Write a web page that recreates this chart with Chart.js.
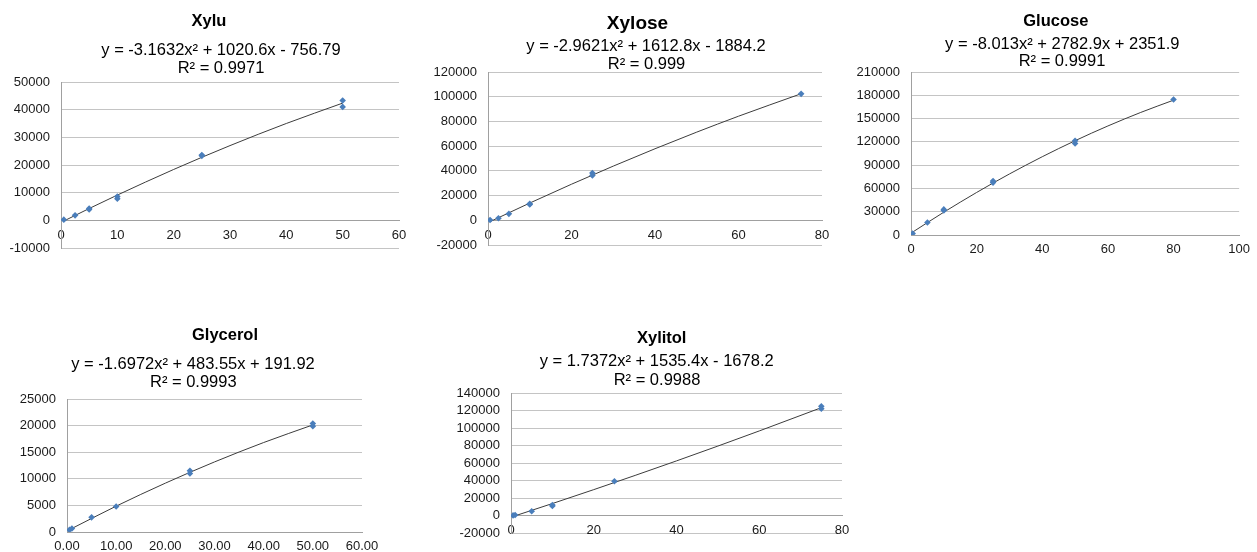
<!DOCTYPE html>
<html><head><meta charset="utf-8">
<script src="https://cdn.jsdelivr.net/npm/chart.js@4.4.0/dist/chart.umd.min.js"></script>
<style>
html,body{margin:0;padding:0;background:#fff;width:1257px;height:552px;overflow:hidden;position:relative;}
canvas{position:absolute;}
</style></head><body>
<canvas id="c1" width="420" height="270" style="left:0px;top:0px"></canvas>
<canvas id="c2" width="420" height="270" style="left:420px;top:0px"></canvas>
<canvas id="c3" width="417" height="270" style="left:840px;top:0px"></canvas>
<canvas id="c4" width="420" height="272" style="left:0px;top:280px"></canvas>
<canvas id="c5" width="440" height="272" style="left:420px;top:280px"></canvas>
<script>
// ---------- data ----------
const titles = ['Xylu', 'Xylose', 'Glucose', 'Glycerol', 'Xylitol'];
const equations = [
  'y = -3.1632x\u00B2 + 1020.6x - 756.79',
  'y = -2.9621x\u00B2 + 1612.8x - 1884.2',
  'y = -8.013x\u00B2 + 2782.9x + 2351.9',
  'y = -1.6972x\u00B2 + 483.55x + 191.92',
  'y = 1.7372x\u00B2 + 1535.4x - 1678.2'
];
const r2Texts = ['R\u00B2 = 0.9971', 'R\u00B2 = 0.999', 'R\u00B2 = 0.9991', 'R\u00B2 = 0.9993', 'R\u00B2 = 0.9988'];

// Xylu
const xyluX = [0.5, 2.5, 5, 5, 10, 10, 25, 25, 50, 50];
const xyluY = [250, 1800, 4300, 3900, 8600, 7800, 23600, 23300, 43300, 41000];
const xyluTrendX = [0.5, 5, 10, 20, 30, 40, 50];
const xyluTrendY = [-250, 4270, 9130, 18390, 27010, 35010, 42370];
const xyluXTicks = ['0', '10', '20', '30', '40', '50', '60'];
const xyluYTicks = ['-10000', '0', '10000', '20000', '30000', '40000', '50000'];

// Xylose
const xyloseX = [0.5, 2.5, 5, 10, 10, 25, 25, 75];
const xyloseY = [250, 1600, 5200, 12800, 13300, 36300, 38300, 102300];
const xyloseTrendX = [0.5, 10, 20, 30, 40, 50, 60, 75];
const xyloseTrendY = [-1080, 13950, 29190, 43830, 57890, 71350, 84220, 102410];
const xyloseXTicks = ['0', '20', '40', '60', '80'];
const xyloseYTicks = ['-20000', '0', '20000', '40000', '60000', '80000', '100000', '120000'];

// Glucose
const glucoseX = [0.5, 5, 10, 10, 25, 25, 50, 50, 80];
const glucoseY = [1800, 16200, 31500, 33000, 67500, 69500, 118000, 121500, 174600];
const glucoseTrendX = [0.5, 10, 20, 30, 40, 50, 60, 70, 80];
const glucoseTrendY = [3740, 29380, 54800, 78630, 100850, 121460, 140480, 157890, 173700];
const glucoseXTicks = ['0', '20', '40', '60', '80', '100'];
const glucoseYTicks = ['0', '30000', '60000', '90000', '120000', '150000', '180000', '210000'];

// Glycerol
const glycerolX = [0.5, 1, 5, 10, 25, 25, 50, 50];
const glycerolY = [400, 650, 2750, 4800, 11000, 11500, 19900, 20400];
const glycerolTrendX = [0.5, 10, 20, 30, 40, 50];
const glycerolTrendY = [430, 4860, 9180, 13170, 16820, 20130];
const glycerolXTicks = ['0.00', '10.00', '20.00', '30.00', '40.00', '50.00', '60.00'];
const glycerolYTicks = ['0', '5000', '10000', '15000', '20000', '25000'];

// Xylitol
const xylitolX = [0.5, 1, 5, 10, 10, 25, 75, 75];
const xylitolY = [300, 800, 5000, 11000, 12200, 39300, 122000, 124800];
const xylitolTrendX = [0.5, 10, 20, 30, 40, 50, 60, 75];
const xylitolTrendY = [-910, 13850, 29720, 45950, 62520, 79430, 96700, 123250];
const xylitolXTicks = ['0', '20', '40', '60', '80'];
const xylitolYTicks = ['-20000', '0', '20000', '40000', '60000', '80000', '100000', '120000', '140000'];

// ---------- styling / layout ----------
const FONT = "'Liberation Sans', Arial, sans-serif";
const GRID = '#c4c4c4';
const AXIS = '#a0a0a0';
const MARK = '#4a7ebb';
const TREND = '#3c3c3c';

function pts(xs, ys) { return xs.map((x, i) => ({x: x, y: ys[i]})); }

const textPlugin = {
  id: 'excelText',
  afterDraw(chart) {
    const o = chart.options.plugins.excelText;
    const ctx = chart.ctx;
    ctx.save();
    ctx.fillStyle = '#000';
    ctx.textAlign = 'center';
    ctx.textBaseline = 'alphabetic';
    ctx.font = 'bold ' + o.titleSize + 'px ' + FONT;
    ctx.fillText(o.title, o.tx, o.ty + 0.358 * o.titleSize);
    ctx.font = o.eqSize + 'px ' + FONT;
    ctx.fillText(o.eq, o.ex, o.ey + 0.358 * o.eqSize);
    ctx.fillText(o.r2, o.rx, o.ry + 0.358 * o.eqSize);
    ctx.restore();
  }
};

function makeChart(id, c) {
  const canvas = document.getElementById(id);
  const W = canvas.width, H = canvas.height;
  new Chart(canvas, {
    type: 'scatter',
    data: {
      datasets: [
        {
          data: pts(c.px, c.py), showLine: false,
          pointStyle: 'rectRot', pointRadius: 3.3, pointHoverRadius: 3.3,
          backgroundColor: MARK, borderColor: MARK, borderWidth: 0
        },
        {
          data: pts(c.tx, c.ty), showLine: true,
          pointRadius: 0, pointHoverRadius: 0, borderColor: TREND, borderWidth: 1,
          cubicInterpolationMode: 'monotone', fill: false
        }
      ]
    },
    options: {
      responsive: false, animation: false, devicePixelRatio: 1,
      events: [],
      layout: { padding: { left: 0, top: c.area.top, right: W - c.area.right, bottom: H - c.area.bottom } },
      plugins: {
        legend: { display: false }, tooltip: { enabled: false }, title: { display: false },
        excelText: c.text
      },
      scales: {
        x: {
          type: 'linear', min: c.xmin, max: c.xmax,
          position: { y: 0 },
          grid: { display: true, drawOnChartArea: false, drawTicks: false },
          border: { display: true, color: AXIS, width: 1 },
          ticks: {
            stepSize: c.xstep, padding: 7, color: '#1a1a1a', maxRotation: 0, autoSkip: false,
            font: { family: FONT, size: 13 },
            callback: (v) => c.xlabels[Math.round((v - c.xmin) / c.xstep)]
          }
        },
        y: {
          type: 'linear', min: c.ymin, max: c.ymax, position: 'left',
          afterFit: (s) => { s.width = c.area.left; },
          grid: { display: true, color: GRID, lineWidth: 1, drawTicks: false },
          border: { display: true, color: AXIS, width: 1 },
          ticks: {
            stepSize: c.ystep, padding: 11, color: '#1a1a1a', autoSkip: false,
            font: { family: FONT, size: 13 },
            callback: (v) => c.ylabels[Math.round((v - c.ymin) / c.ystep)]
          }
        }
      }
    },
    plugins: [textPlugin]
  });
}

makeChart('c1', {
  px: xyluX, py: xyluY, tx: xyluTrendX, ty: xyluTrendY,
  xmin: 0, xmax: 60, xstep: 10, xlabels: xyluXTicks,
  ymin: -10000, ymax: 50000, ystep: 10000, ylabels: xyluYTicks,
  area: { left: 61, right: 399, top: 82, bottom: 248 },
  text: { title: titles[0], eq: equations[0], r2: r2Texts[0], titleSize: 16.5, eqSize: 16.5,
          tx: 209, ty: 20.5, ex: 221, ey: 48.7, rx: 221, ry: 66.7 }
});
makeChart('c2', {
  px: xyloseX, py: xyloseY, tx: xyloseTrendX, ty: xyloseTrendY,
  xmin: 0, xmax: 80, xstep: 20, xlabels: xyloseXTicks,
  ymin: -20000, ymax: 120000, ystep: 20000, ylabels: xyloseYTicks,
  area: { left: 68, right: 402, top: 72, bottom: 245 },
  text: { title: titles[1], eq: equations[1], r2: r2Texts[1], titleSize: 19, eqSize: 16.5,
          tx: 217.5, ty: 21.7, ex: 226, ey: 45.3, rx: 226.5, ry: 63.3 }
});
makeChart('c3', {
  px: glucoseX, py: glucoseY, tx: glucoseTrendX, ty: glucoseTrendY,
  xmin: 0, xmax: 100, xstep: 20, xlabels: glucoseXTicks,
  ymin: 0, ymax: 210000, ystep: 30000, ylabels: glucoseYTicks,
  area: { left: 71, right: 402, top: 72, bottom: 235 },
  text: { title: titles[2], eq: equations[2], r2: r2Texts[2], titleSize: 16.5, eqSize: 16.5,
          tx: 215.8, ty: 20.3, ex: 222.3, ey: 42.8, rx: 222, ry: 60.3 }
});
makeChart('c4', {
  px: glycerolX, py: glycerolY, tx: glycerolTrendX, ty: glycerolTrendY,
  xmin: 0, xmax: 60, xstep: 10, xlabels: glycerolXTicks,
  ymin: 0, ymax: 25000, ystep: 5000, ylabels: glycerolYTicks,
  area: { left: 67, right: 362, top: 119, bottom: 252 },
  text: { title: titles[3], eq: equations[3], r2: r2Texts[3], titleSize: 16.5, eqSize: 16.5,
          tx: 225, ty: 53.8, ex: 193, ey: 82.8, rx: 193.3, ry: 101.2 }
});
makeChart('c5', {
  px: xylitolX, py: xylitolY, tx: xylitolTrendX, ty: xylitolTrendY,
  xmin: 0, xmax: 80, xstep: 20, xlabels: xylitolXTicks,
  ymin: -20000, ymax: 140000, ystep: 20000, ylabels: xylitolYTicks,
  area: { left: 91, right: 422, top: 113, bottom: 263 },
  text: { title: titles[4], eq: equations[4], r2: r2Texts[4], titleSize: 16.5, eqSize: 16.5,
          tx: 241.7, ty: 57.5, ex: 236.7, ey: 79.8, rx: 237, ry: 98.8 }
});
</script>
</body></html>
